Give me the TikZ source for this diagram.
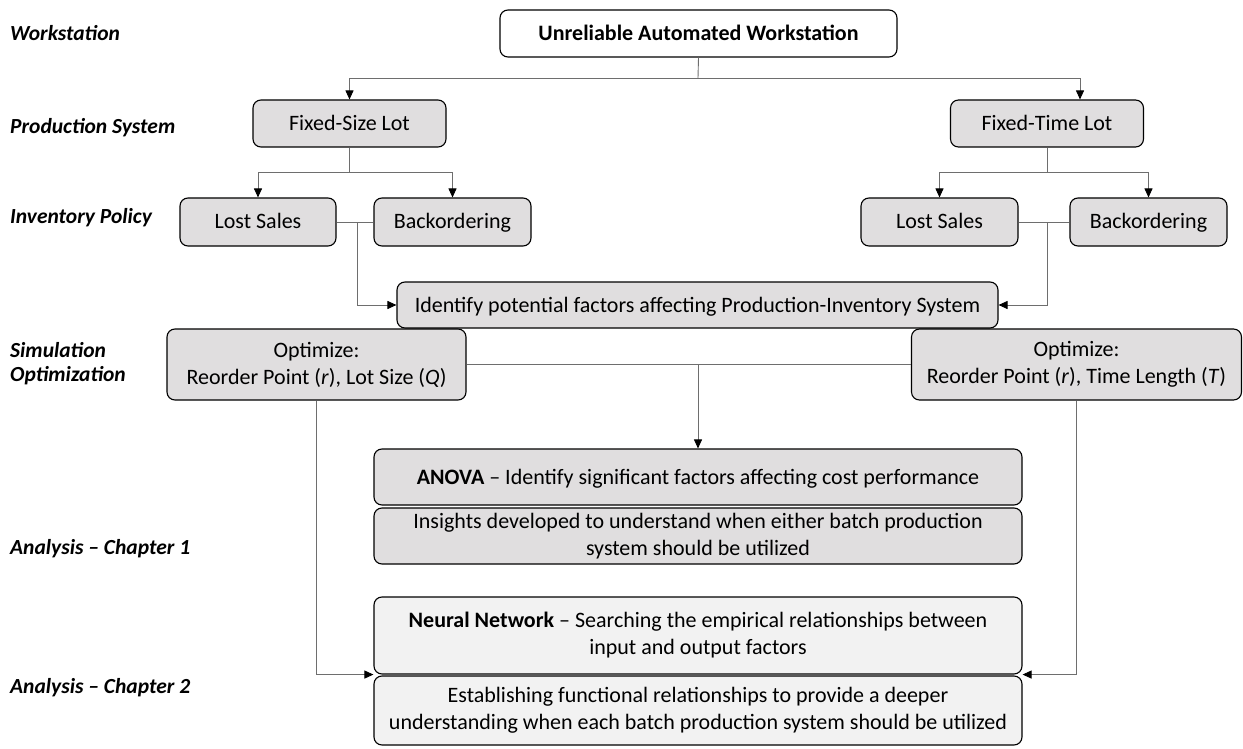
\documentclass[tikz,border=0pt]{standalone}
\usepackage{fontspec}
\setmainfont{Carlito}
\usetikzlibrary{arrows.meta}
\definecolor{boxgray}{HTML}{E0DEDF}
\definecolor{boxlight}{HTML}{F2F2F2}
\definecolor{wirecol}{HTML}{6E6E6E}
\begin{document}
\begin{tikzpicture}[x=1pt,y=-1pt,
  box/.style={draw=black, line width=1.1pt, rounded corners=8pt, fill=boxgray,
    align=center, inner sep=0pt, font=\fontsize{22}{27}\selectfont},
  oneline/.style={text height=16pt, text depth=2pt},
  lightbox/.style={box, fill=boxlight},
  topbox/.style={box, oneline, fill=white, font=\fontsize{22}{27}\selectfont\bfseries},
  lvl/.style={anchor=west, align=left, inner sep=0pt,
    font=\fontsize{21.5}{24}\selectfont\bfseries\itshape},
  wire/.style={draw=wirecol, line width=0.9pt},
  arr/.style={wire, -{Triangle[length=9pt,width=8pt,color=black]}}]
\useasboundingbox (0,0) rectangle (1243,749);

% level labels
\node[lvl] (lv1) at (10,33) {Workstation};
\node[lvl] (lv2) at (10,128) {Production System};
\node[lvl] (lv3) at (10,218) {Inventory Policy};
\node[lvl] (lv4) at (10,364) {Simulation\\Optimization};
\node[lvl] (lv5) at (10,549) {Analysis – Chapter 1};
\node[lvl] (lv6) at (10,688) {Analysis – Chapter 2};

% boxes
\node[topbox, minimum width=397pt, minimum height=47pt] (top) at (698.5,33.5) {Unreliable Automated Workstation};
\node[box, oneline, minimum width=193pt, minimum height=47pt] (fsl) at (349.5,123.5) {Fixed-Size Lot};
\node[box, oneline, minimum width=193pt, minimum height=47pt] (ftl) at (1047,123.5) {Fixed-Time Lot};
\node[box, oneline, minimum width=156pt, minimum height=48pt] (lsl) at (258,222) {Lost Sales};
\node[box, oneline, minimum width=157pt, minimum height=48pt] (bol) at (452.5,222) {Backordering};
\node[box, oneline, minimum width=157pt, minimum height=48pt] (lsr) at (939.5,222) {Lost Sales};
\node[box, oneline, minimum width=157pt, minimum height=48pt] (bor) at (1148.5,222) {Backordering};
\node[box, oneline, minimum width=601pt, minimum height=46pt] (ident) at (697.5,305) {Identify potential factors affecting Production-Inventory System};
\node[box, minimum width=299pt, minimum height=71pt] (optl) at (316.5,364.5) {Optimize:\\Reorder Point (\textit{r}), Lot Size (\textit{Q})};
\node[box, minimum width=330pt, minimum height=71pt] (optr) at (1076.5,364.5) {Optimize:\\Reorder Point (\textit{r}), Time Length (\textit{T})};
\node[box, oneline, minimum width=648pt, minimum height=56pt] (anova) at (698,477) {\textbf{ANOVA} – Identify significant factors affecting cost performance};
\node[box, minimum width=648pt, minimum height=56pt] (ins) at (698,536) {Insights developed to understand when either batch production\\system should be utilized};
\node[lightbox, minimum width=648pt, minimum height=77pt] (neural) at (698,635.5) {\textbf{Neural Network} – Searching the empirical relationships between\\input and output factors};
\node[lightbox, minimum width=648pt, minimum height=69pt] (est) at (698,710.5) {Establishing functional relationships to provide a deeper\\understanding when each batch production system should be utilized};

% branch points
\coordinate (b0) at (698,78);
\coordinate (ftlin) at ([xshift=33pt]ftl.north);
\coordinate (b1) at (349.5,172);
\coordinate (b2) at (1047,172);
\coordinate (j1) at (357,222);
\coordinate (j2) at (1047,222);
\coordinate (b3) at (698,364.5);

% connectors
\draw[wire] (top.south) -- (b0);
\draw[arr] (b0) -| (fsl.north);
\draw[arr] (b0) -| (ftlin);
\draw[wire] (fsl.south) -- (b1);
\draw[arr] (b1) -| (lsl.north);
\draw[arr] (b1) -| (bol.north);
\draw[wire] (ftl.south) -- (b2);
\draw[arr] (b2) -| (lsr.north);
\draw[arr] (b2) -| (bor.north);
\draw[wire] (lsl.east) -- (bol.west);
\draw[wire] (lsr.east) -- (bor.west);
\draw[arr] (j1) |- (ident.west);
\draw[arr] (j2) |- (ident.east);
\draw[wire] (optl.east) -- (optr.west);
\draw[arr] (b3) -- (anova.north);
\draw[arr] (optl.south) |- (neural.south west);
\draw[arr] (optr.south) |- (neural.south east);
\end{tikzpicture}
\end{document}
